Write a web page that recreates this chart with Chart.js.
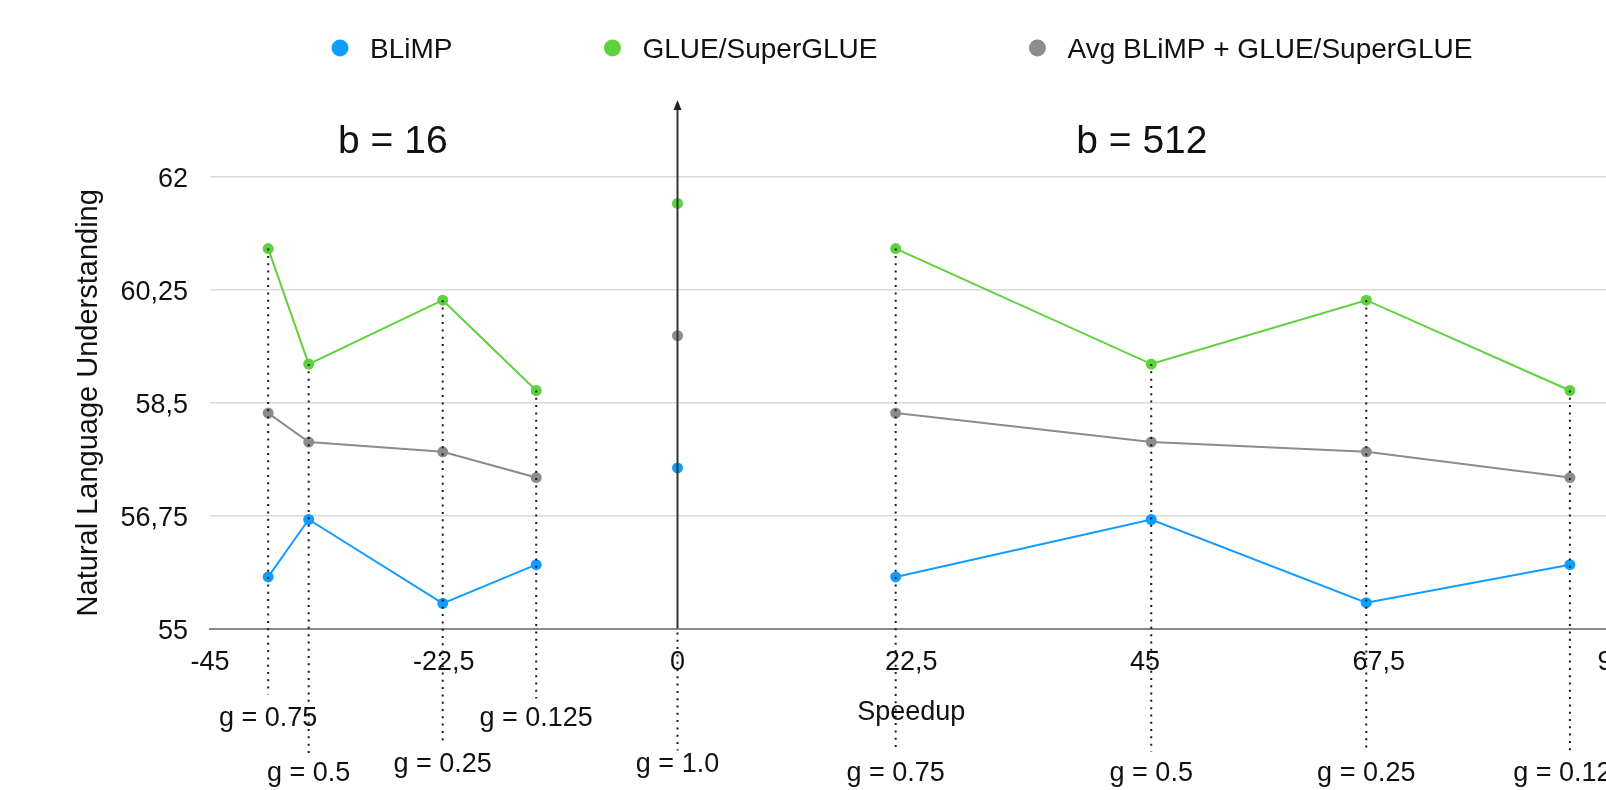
<!DOCTYPE html>
<html>
<head>
<meta charset="utf-8">
<script src="https://cdn.jsdelivr.net/npm/chart.js@4"></script>
<style>
  html, body { margin: 0; padding: 0; background: #fff; overflow: hidden; }
  #wrap { width: 1606px; height: 790px; overflow: hidden; position: relative; }
  canvas { display: block; }
</style>
</head>
<body>
<div id="wrap"><canvas id="nluChart" width="1800" height="790"></canvas></div>
<script>
// speedup (x) for each run
const speedupB16 = [-39.4, -35.5, -22.6, -13.6];
const speedupBase = [0];
const speedupB512 = [21.0, 45.6, 66.3, 85.9];

// g labels under the guides
const gB16 = ['g = 0.75', 'g = 0.5', 'g = 0.25', 'g = 0.125'];
const gBase = ['g = 1.0'];
const gB512 = ['g = 0.75', 'g = 0.5', 'g = 0.25', 'g = 0.125'];

// scores
const blimpB16 = [55.80, 56.69, 55.39, 55.99];
const blimpBase = [57.49];
const blimpB512 = [55.80, 56.69, 55.40, 55.99];

const glueB16 = [60.89, 59.10, 60.09, 58.69];
const glueBase = [61.59];
const glueB512 = [60.89, 59.10, 60.09, 58.69];

const avgB16 = [58.34, 57.89, 57.74, 57.34];
const avgBase = [59.54];
const avgB512 = [58.34, 57.89, 57.74, 57.34];

const seriesNames = ['BLiMP', 'GLUE/SuperGLUE', 'Avg BLiMP + GLUE/SuperGLUE'];
const groupTitles = ['b = 16', 'b = 512'];
const groupTitleAt = [-27.4, 44.7];

const xTicks = [-45, -22.5, 0, 22.5, 45, 67.5, 90];
const yTicks = [55, 56.75, 58.5, 60.25, 62];

const FONT = '"Liberation Sans", Arial, Helvetica, sans-serif';
const colors = ['#119cff', '#5dd23c', '#8c8c8c'];

function pts(left, mid, right) {
  // null points break the line between the groups
  return [
    ...speedupB16.map((x, i) => ({ x: x, y: left[i] })),
    { x: -6, y: null },
    { x: speedupBase[0], y: mid[0] },
    { x: 8, y: null },
    ...speedupB512.map((x, i) => ({ x: x, y: right[i] }))
  ];
}

const comma = v => String(v).replace('.', ',');

// layout of guides: [line end, label centre] below the plot bottom
const guideLayout = [
  [66, 90], [125, 145], [115, 136], [70, 90],
  [122, 136],
  [123, 145], [123, 145], [123, 145], [123, 145]
];

const overlay = {
  id: 'overlay',
  afterDatasetsDraw(chart) {
    const { ctx, chartArea, scales } = chart;
    const x = scales.x, y = scales.y;
    ctx.save();

    // vertical axis at speedup 0 with arrow
    const x0 = x.getPixelForValue(0);
    ctx.strokeStyle = '#333';
    ctx.lineWidth = 2;
    ctx.beginPath();
    ctx.moveTo(x0, chartArea.bottom);
    ctx.lineTo(x0, 108);
    ctx.stroke();
    ctx.fillStyle = '#222';
    ctx.beginPath();
    ctx.moveTo(x0, 100);
    ctx.lineTo(x0 - 4, 110);
    ctx.lineTo(x0 + 4, 110);
    ctx.closePath();
    ctx.fill();

    // dotted guides + g labels
    const xs = [...speedupB16, ...speedupBase, ...speedupB512];
    const tops = [...glueB16, ...glueBase, ...glueB512];
    const labels = [...gB16, ...gBase, ...gB512];
    ctx.setLineDash([2, 5.3]);
    ctx.strokeStyle = '#1a1a1a';
    ctx.lineWidth = 2;
    xs.forEach((v, i) => {
      const px = x.getPixelForValue(v);
      const startY = v === 0 ? chartArea.bottom + 4 : y.getPixelForValue(tops[i]);
      ctx.beginPath();
      ctx.moveTo(px, startY);
      ctx.lineTo(px, chartArea.bottom + guideLayout[i][0]);
      ctx.stroke();
    });
    ctx.setLineDash([]);
    ctx.fillStyle = '#111';
    ctx.font = '27px ' + FONT;
    ctx.textAlign = 'center';
    ctx.textBaseline = 'middle';
    xs.forEach((v, i) => {
      ctx.fillText(labels[i], x.getPixelForValue(v), chartArea.bottom + guideLayout[i][1]);
    });

    // group titles
    ctx.font = '39px ' + FONT;
    groupTitles.forEach((t, i) => {
      ctx.fillText(t, x.getPixelForValue(groupTitleAt[i]), chartArea.top - 35);
    });

    // legend
    ctx.font = '28px ' + FONT;
    ctx.textAlign = 'left';
    let cx = 340;
    seriesNames.forEach((name, i) => {
      ctx.fillStyle = colors[i];
      ctx.beginPath();
      ctx.arc(cx, 48, 8.5, 0, Math.PI * 2);
      ctx.fill();
      ctx.fillStyle = '#111';
      ctx.fillText(name, cx + 30, 50);
      cx += 30 + ctx.measureText(name).width + 160;
    });
    ctx.restore();
  }
};

const mkSet = (label, data, color) => ({
  label: label,
  data: data,
  borderColor: color,
  backgroundColor: color,
  borderWidth: 2,
  pointRadius: 5.5,
  pointBorderWidth: 0,
  pointBackgroundColor: color,
  tension: 0,
  spanGaps: false
});

new Chart(document.getElementById('nluChart'), {
  type: 'line',
  data: {
    datasets: [
      mkSet(seriesNames[0], pts(blimpB16, blimpBase, blimpB512), colors[0]),
      mkSet(seriesNames[1], pts(glueB16, glueBase, glueB512), colors[1]),
      mkSet(seriesNames[2], pts(avgB16, avgBase, avgB512), colors[2])
    ]
  },
  options: {
    responsive: false,
    animation: false,
    devicePixelRatio: 1,
    layout: { padding: { top: 177, left: 68, right: 187.5, bottom: 41.5 } },
    plugins: { legend: { display: false }, tooltip: { enabled: false } },
    scales: {
      x: {
        type: 'linear',
        min: -45,
        max: 90,
        afterBuildTicks: s => { s.ticks = xTicks.map(v => ({ value: v })); },
        afterFit: s => { s.height = 120; },
        grid: { display: false },
        border: { display: true, color: '#8a8a8a', width: 2 },
        ticks: {
          padding: 10,
          color: '#111',
          font: { size: 27, family: FONT },
          callback: v => comma(v)
        },
        title: {
          display: true,
          text: 'Speedup',
          color: '#111',
          font: { size: 27, family: FONT },
          padding: { top: 0, bottom: 20 }
        }
      },
      y: {
        min: 55,
        max: 62,
        afterBuildTicks: s => { s.ticks = yTicks.map(v => ({ value: v })); },
        afterFit: s => { s.width = 142; },
        grid: { color: '#dadada', lineWidth: 1.5, drawTicks: false },
        border: { display: false },
        ticks: {
          padding: 22,
          labelOffset: 3,
          color: '#111',
          font: { size: 27, family: FONT },
          callback: v => comma(v)
        },
        title: {
          display: true,
          text: 'Natural Language Understanding',
          color: '#111',
          font: { size: 29, family: FONT },
          padding: { top: 4, bottom: 0 }
        }
      }
    }
  },
  plugins: [overlay]
});
</script>
</body>
</html>
